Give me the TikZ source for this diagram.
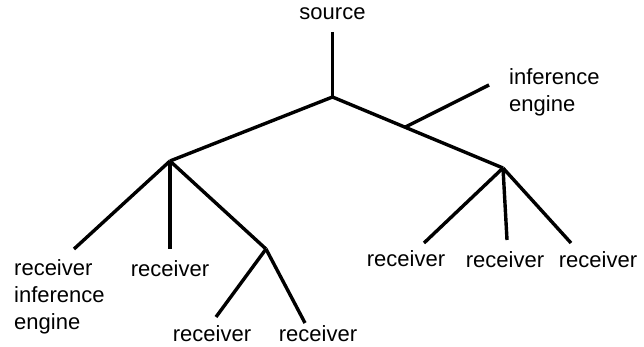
\documentclass[tikz,border=0pt]{standalone}
\usepackage{fontspec}
\setmainfont{Liberation Sans}
\begin{document}
\begin{tikzpicture}[x=1pt,y=-1pt,
  lbl/.style={font=\fontsize{22}{27}\selectfont, inner sep=0pt, anchor=base},
  mlbl/.style={lbl, anchor=base west, align=left},
  branch/.style={line width=3.4pt, line join=miter}]
\useasboundingbox (0,0) rectangle (644,347);
% tree points
\coordinate (top) at (332.5,32);
\coordinate (root) at (332.5,97);
\coordinate (L) at (170,161);
\coordinate (Rt) at (503,168);
\coordinate (B) at (405,127.2);
\coordinate (ie) at (489,85);
\coordinate (l1) at (74,249);
\coordinate (l2) at (170,249);
\coordinate (M) at (266,249);
\coordinate (m1) at (216,317);
\coordinate (m2) at (305,323);
\coordinate (r1) at (424,243);
\coordinate (r2) at (507,240);
\coordinate (r3) at (571,243);
% labels (multi-line nodes: base anchor is the last line's baseline)
\node[lbl] (src) at (332.5,20) {source};
\node[mlbl] (ielbl) at (509,112) {inference\\engine};
\node[mlbl] (l1lbl) at (14,329) {receiver\\inference\\engine};
\node[lbl] (l2lbl) at (170,276) {receiver};
\node[lbl] (m1lbl) at (212,341) {receiver};
\node[lbl] (m2lbl) at (318,341) {receiver};
\node[lbl] (r1lbl) at (406,266) {receiver};
\node[lbl] (r2lbl) at (505,267) {receiver};
\node[lbl] (r3lbl) at (598,267) {receiver};
% connectors
\draw[branch] (top) -- (root);
\draw[branch] (L) -- (root) -- (Rt);
\draw[branch] (B) -- (ie);
\draw[branch] (L) -- (l1);
\draw[branch] (L) -- (l2);
\draw[branch] (L) -- (M);
\draw[branch] (M) -- (m1);
\draw[branch] (M) -- (m2);
\draw[branch] (Rt) -- (r1);
\draw[branch] (Rt) -- (r2);
\draw[branch] (Rt) -- (r3);
\end{tikzpicture}
\end{document}
